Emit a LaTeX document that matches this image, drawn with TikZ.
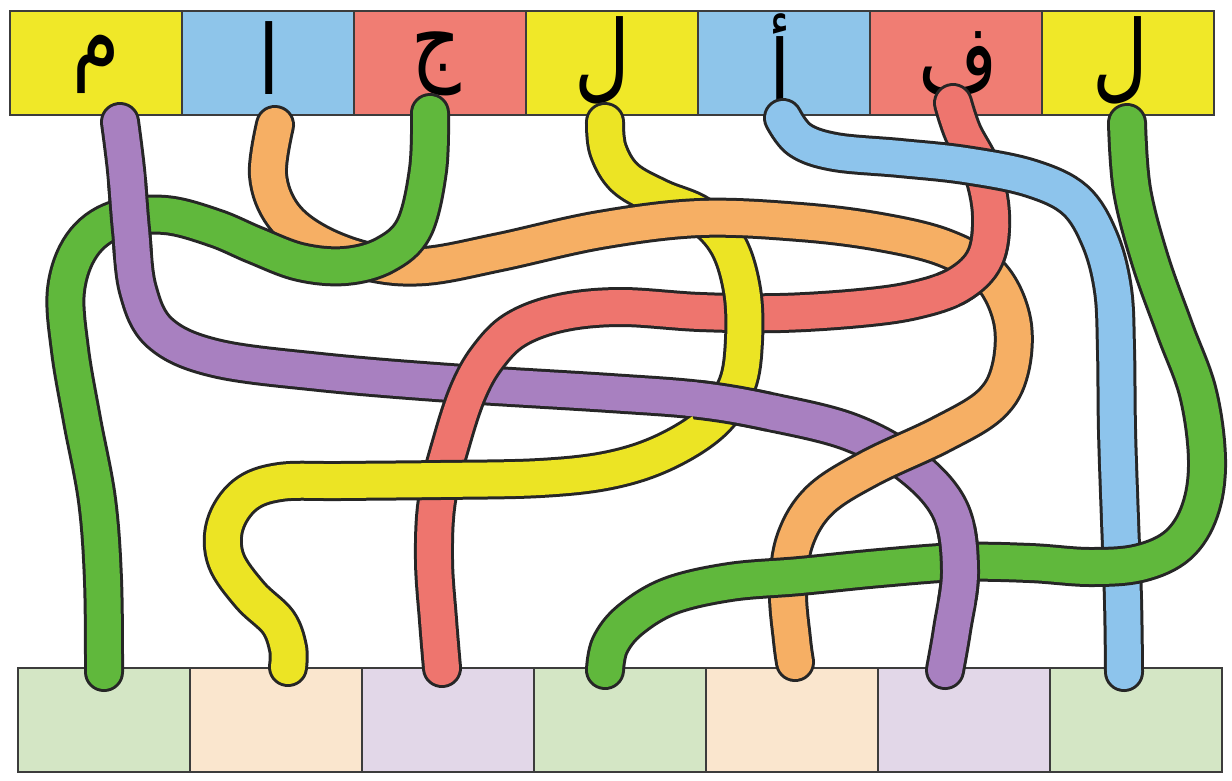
\documentclass[tikz,border=0pt]{standalone}
\usepackage{fontspec}
\newfontfamily\arabicfont[Script=Arabic]{DejaVu Sans}
\TeXXeTstate=1
\definecolor{topyellow}{RGB}{240,232,40}
\definecolor{topblue}{RGB}{142,197,234}
\definecolor{topred}{RGB}{240,125,115}
\definecolor{botgreen}{RGB}{212,230,197}
\definecolor{botpeach}{RGB}{250,230,206}
\definecolor{botlav}{RGB}{226,215,232}
\definecolor{tpurple}{RGB}{168,128,192}
\definecolor{torange}{RGB}{246,175,100}
\definecolor{tgreen}{RGB}{96,184,60}
\definecolor{tred}{RGB}{238,117,110}
\definecolor{tyellow}{RGB}{236,228,36}
\definecolor{tblue}{RGB}{141,196,236}
\definecolor{outl}{RGB}{38,38,38}
\definecolor{boxline}{RGB}{60,60,60}
\tikzset{
  cell/.style={draw=boxline, line width=2.5pt, minimum width=172pt, minimum height=104pt, inner sep=0pt},
  letter/.style={anchor=center, inner sep=0pt, xscale=0.8, font=\arabicfont\fontsize{96}{98}\selectfont},
  tubeout/.style={draw=outl, line width=40pt, line cap=round, line join=round},
  tubein/.style={line width=34pt, line cap=round, line join=round},
}
\newcommand\tubeP[1]{\draw[#1] plot[smooth,tension=0.6] coordinates {(120,122) (126,170) (131,230) (138,290) (160,333) (215,358) (320,372) (450,383) (610,393) (700,400) (770,412) (850,432) (910,465) (950,510) (960,570) (952,630) (945,670)};}
\newcommand\tubeO[1]{\draw[#1] plot[smooth,tension=0.6] coordinates {(275,125) (268,175) (283,215) (318,243) (370,262) (425,266) (500,252) (600,230) (700,218) (800,222) (880,232) (945,248) (990,275) (1012,320) (1010,370) (990,405) (940,435) (870,468) (820,500) (795,540) (788,590) (792,640) (795,662)};}
\newcommand\tubeGa[1]{\draw[#1] plot[smooth,tension=0.6] coordinates {(430,113) (428,170) (414,228) (385,255) (345,266) (300,262) (255,245) (215,228) (165,215) (115,220) (82,245) (66,290) (70,350) (82,420) (97,500) (103,580) (104,672)};}
\newcommand\tubeY[1]{\draw[#1] plot[smooth,tension=0.6] coordinates {(605,122) (608,150) (625,178) (660,198) (700,215) (728,245) (742,290) (744,340) (737,385) (712,422) (665,452) (610,470) (540,478) (440,480) (340,481) (280,482) (245,495) (225,525) (226,560) (250,595) (278,622) (288,648) (288,667)};}
\newcommand\tubeR[1]{\draw[#1] plot[smooth,tension=0.6] coordinates {(953,103) (963,133) (982,170) (991,215) (985,258) (958,285) (915,300) (860,308) (780,313) (700,312) (620,307) (560,313) (515,330) (487,358) (468,392) (452,440) (437,500) (434,560) (438,620) (442,668)};}
\newcommand\tubeB[1]{\draw[#1] plot[smooth,tension=0.6] coordinates {(783,118) (800,140) (835,152) (900,158) (965,165) (1030,178) (1075,200) (1100,240) (1113,290) (1116,350) (1117,430) (1120,520) (1123,600) (1124,672)};}
\newcommand\tubeGb[1]{\draw[#1] plot[smooth,tension=0.6] coordinates {(1127,123) (1132,190) (1150,260) (1175,330) (1198,393) (1207,460) (1200,510) (1178,545) (1140,563) (1090,567) (1030,563) (960,562) (880,568) (800,576) (730,582) (670,596) (630,620) (610,645) (605,670)};}
% redraw a tube on top inside a circle: outline clipped at r, fill clipped slightly wider
\newcommand\weave[5]{%
  \begin{scope}\clip (#2,#3) circle (#4pt); #1{tubeout}\end{scope}%
  \begin{scope}\clip (#2,#3) circle (#4pt+6pt); #1{tubein,#5}\end{scope}}
\begin{document}
\begin{tikzpicture}[x=1pt,y=-1pt]
\fill[white] (0,0) rectangle (1232,780);
\useasboundingbox (0,0) rectangle (1232,780);
% top row
\node[cell, fill=topyellow] (t1) at (96,63) {};
\node[cell, fill=topblue]   (t2) at (268,63) {};
\node[cell, fill=topred]    (t3) at (440,63) {};
\node[cell, fill=topyellow] (t4) at (612,63) {};
\node[cell, fill=topblue]   (t5) at (784,63) {};
\node[cell, fill=topred]    (t6) at (956,63) {};
\node[cell, fill=topyellow] (t7) at (1128,63) {};
% bottom row
\node[cell, fill=botgreen] (b1) at (104,720) {};
\node[cell, fill=botpeach] (b2) at (276,720) {};
\node[cell, fill=botlav]   (b3) at (448,720) {};
\node[cell, fill=botgreen] (b4) at (620,720) {};
\node[cell, fill=botpeach] (b5) at (792,720) {};
\node[cell, fill=botlav]   (b6) at (964,720) {};
\node[cell, fill=botgreen] (b7) at (1136,720) {};
% letters
\node[letter] (l1) at (96,64)  {\beginR م\endR};
\node[letter] (l2) at (269,58) {\beginR ا\endR};
\node[letter] (l3) at (436,64) {\beginR ج\endR};
\node[letter] (l4) at (602,60) {\beginR ل\endR};
\node[letter] (l5) at (780,62) {\beginR أ\endR};
\node[letter] (l6) at (958,64) {\beginR ف\endR};
\node[letter] (l7) at (1120,60) {\beginR ل\endR};
% tubes, bottom to top
\tubeP{tubeout}\tubeP{tubein,tpurple}
\tubeR{tubeout}\tubeR{tubein,tred}
\tubeY{tubeout}\tubeY{tubein,tyellow}
\tubeB{tubeout}\tubeB{tubein,tblue}
\tubeO{tubeout}\tubeO{tubein,torange}
\tubeGb{tubeout}\tubeGb{tubein,tgreen}
\tubeGa{tubeout}\tubeGa{tubein,tgreen}
% woven crossings
\weave{\tubeP}{130}{218}{42}{tpurple}
\weave{\tubeR}{980}{265}{44}{tred}
\weave{\tubeP}{733}{405}{42}{tpurple}
\weave{\tubeP}{958}{563}{42}{tpurple}
\end{tikzpicture}
\end{document}
